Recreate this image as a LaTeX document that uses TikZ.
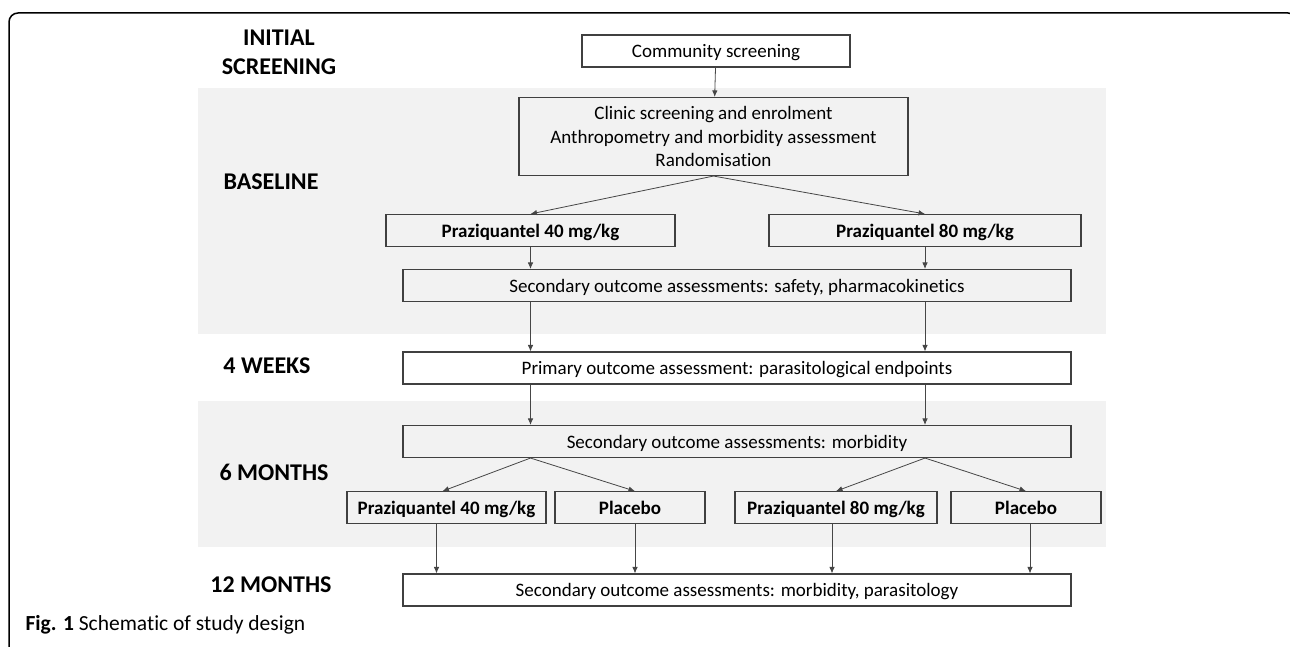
\documentclass[tikz,border=0pt]{standalone}
\usepackage{fontspec}
\setmainfont{Carlito}[Ligatures=NoCommon]
\usepackage{tikz}
\usetikzlibrary{arrows.meta, positioning}

\definecolor{bandgray}{RGB}{242,242,242}
\definecolor{boxgray}{RGB}{64,64,64}
\definecolor{linegray}{RGB}{70,70,70}

\tikzset{
  box/.style={draw=boxgray, line width=1.1pt, minimum height=32pt, inner sep=0pt,
              text height=16pt, text depth=3pt,
              font=\fontsize{19}{23.5}\selectfont, align=center},
  drug/.style={box, font=\fontsize{19}{23}\selectfont\bfseries},
  phase/.style={font=\fontsize{24}{29}\selectfont\bfseries, align=center},
  conn/.style={draw=linegray, line width=0.8pt, -{Latex[length=6.5pt,width=5.5pt]}}
}

\begin{document}
\begin{tikzpicture}[x=1pt, y=-1pt]
  \useasboundingbox (0,0) rectangle (1290,647);
  % outer frame
  \draw[line width=1.5pt, rounded corners=9pt] (9,670) -- (9,13) -- (1297,13) -- (1297,40);
  % shaded phases
  \fill[bandgray] (198,88) rectangle (1106,334);
  \fill[bandgray] (198,401) rectangle (1106,547);

  % phase labels
  \node[phase] (lblInit) at (279,52) {INITIAL\\SCREENING};
  \node[phase] (lblBase) at (271,182) {BASELINE};
  \node[phase] (lblWeek) at (267,366) {4 WEEKS};
  \node[phase] (lblSix) at (274,472) {6 MONTHS};
  \node[phase] (lblTwelve) at (271,585) {12 MONTHS};

  % boxes
  \node[box, minimum width=268pt] (community) at (716,51) {Community screening};
  \node[box, text height={}, text depth={}, minimum width=389pt, minimum height=78pt] (clinic) at (713.5,136.5)
    {Clinic screening and enrolment\\Anthropometry and morbidity assessment\\Randomisation};
  \node[drug, minimum width=289pt] (pzqA) at (530.5,230.5) {Praziquantel 40 mg/kg};
  \node[drug, minimum width=312pt] (pzqB) at (925,230.5) {Praziquantel 80 mg/kg};
  \node[box, minimum width=668pt] (safety) at (737,285.5)
    {Secondary outcome assessments: safety, pharmacokinetics};
  \node[box, minimum width=668pt] (primary) at (737,368)
    {Primary outcome assessment: parasitological endpoints};
  \node[box, minimum width=668pt] (morbidity) at (737,441.5)
    {Secondary outcome assessments: morbidity};
  \node[drug, minimum width=199pt] (pzqC) at (446.5,507.7) {Praziquantel 40 mg/kg};
  \node[drug, minimum width=150pt] (placeboA) at (630,507.7) {Placebo};
  \node[drug, minimum width=202pt] (pzqD) at (836,507.7) {Praziquantel 80 mg/kg};
  \node[drug, minimum width=150pt] (placeboB) at (1026,507.7) {Placebo};
  \node[box, minimum width=668pt] (final) at (737,590)
    {Secondary outcome assessments: morbidity, parasitology};

  % connectors
  \draw[conn] (community) -- (clinic);
  \draw[conn] (clinic.south) -- (pzqA.north);
  \draw[conn] (clinic.south) -- (pzqB.north);
  \draw[conn] (pzqA) -- (pzqA |- safety.north);
  \draw[conn] (pzqB) -- (pzqB |- safety.north);
  \draw[conn] (safety.south -| pzqA) -- (primary.north -| pzqA);
  \draw[conn] (safety.south -| pzqB) -- (primary.north -| pzqB);
  \draw[conn] (primary.south -| pzqA) -- (morbidity.north -| pzqA);
  \draw[conn] (primary.south -| pzqB) -- (morbidity.north -| pzqB);
  \draw[conn] (morbidity.south -| pzqA) -- ([xshift=-4pt]pzqC.north);
  \draw[conn] (morbidity.south -| pzqA) -- ([xshift=5pt]placeboA.north);
  \draw[conn] (morbidity.south -| pzqB) -- (pzqD.north);
  \draw[conn] (morbidity.south -| pzqB) -- (placeboB.north);
  \draw[conn] ([xshift=-10pt]pzqC.south) -- ([xshift=-10pt]pzqC.south |- final.north);
  \draw[conn] ([xshift=5pt]placeboA.south) -- ([xshift=5pt]placeboA.south |- final.north);
  \draw[conn] ([xshift=-4pt]pzqD.south) -- ([xshift=-4pt]pzqD.south |- final.north);
  \draw[conn] ([xshift=4pt]placeboB.south) -- ([xshift=4pt]placeboB.south |- final.north);

  % caption
  \node[anchor=west, font=\fontsize{21.5}{25}\selectfont] (caption) at (22,625)
    {\textbf{Fig. 1} Schematic of study design};
\end{tikzpicture}
\end{document}
